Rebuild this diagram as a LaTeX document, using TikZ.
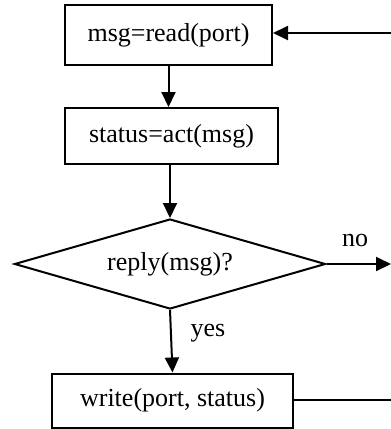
\documentclass[tikz,border=0pt]{standalone}
\usepackage{fontspec}
\setmainfont{Liberation Serif}
\usetikzlibrary{shapes.geometric,arrows.meta}
\begin{document}
\begin{tikzpicture}[x=1pt,y=-1pt,
  every node/.style={font=\fontsize{26}{30}\selectfont, inner sep=0pt},
  box/.style={draw, line width=2pt, rectangle},
  dec/.style={draw, line width=2pt, diamond, aspect=3.4},
  conn/.style={line width=2pt},
  arr/.style={conn, -{Triangle[length=15pt,width=14pt]}}]
\useasboundingbox (0,0) rectangle (391,429);
\node[box, minimum width=207pt, minimum height=60pt] (n1) at (168.5,35) {msg=read(port)};
\node[box, minimum width=213pt, minimum height=56pt] (n2) at (171.5,136) {status=act(msg)};
\node[dec, minimum width=311pt, minimum height=90pt] (d) at (170,264) {reply(msg)?};
\node[box, minimum width=241pt, minimum height=54pt] (n3) at (172.5,400.5) {write(port, status)};
\coordinate (r1) at (391,33);
\coordinate (r2) at (391,264);
\coordinate (r3) at (391,400);
\coordinate (ly) at (208,333);
\coordinate (ln) at (355,240);
\draw[arr] (r1) -- (r1 -| n1.east);
\draw[arr] (n1.south) -- (n1.south |- n2.north);
\draw[arr] (n2.south -| d.north) -- (d.north);
\draw[arr] (d.south) -- (n3.north);
\node at (ly) {yes};
\draw[arr] (d.east) -- (r2);
\node at (ln) {no};
\draw[conn] (n3.east |- r3) -- (r3);
\end{tikzpicture}
\end{document}
